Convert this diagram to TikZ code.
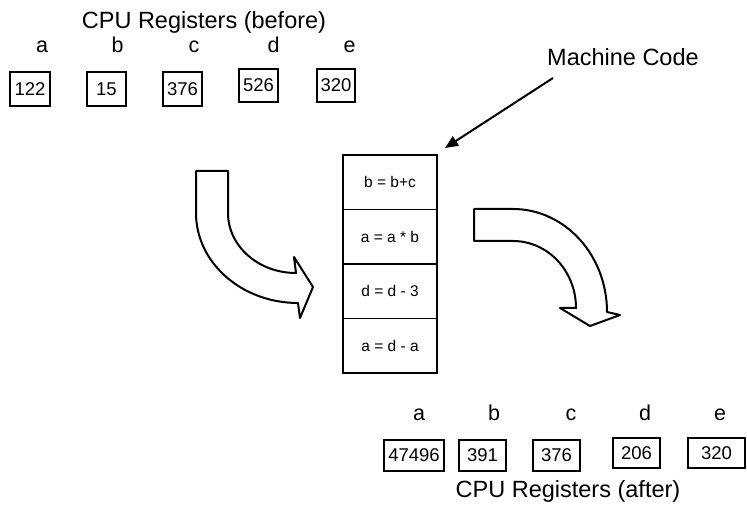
\documentclass[tikz,border=0pt]{standalone}
\usepackage{fontspec}
\setmainfont{Liberation Sans}
\usetikzlibrary{arrows.meta}
\tikzset{
  reg/.style={draw=black, line width=1.8pt, inner sep=0pt, fill=white,
    font=\fontsize{18.5}{22}\selectfont},
  regname/.style={anchor=base, inner sep=0pt, font=\fontsize{21.5}{25}\selectfont},
  title/.style={anchor=base, inner sep=0pt, font=\fontsize{23.5}{28}\selectfont},
  cell/.style={draw=black, line width=1.8pt, inner sep=0pt, minimum width=94pt,
    minimum height=54.5pt, font=\fontsize{15.5}{18}\selectfont},
  bigarrow/.style={draw=black, line width=2pt, fill=white, line join=round},
  pointer/.style={draw=black, line width=2pt, -{Triangle[length=13pt,width=11pt]}}
}
\begin{document}
\begin{tikzpicture}[x=1pt,y=-1pt]
\useasboundingbox (0,0) rectangle (747,521);

% top registers
\node[title] (ttitle) at (204,29) {CPU Registers (before)};
\node[regname] (tla) at (42,53) {a};
\node[regname] (tlb) at (117.5,53) {b};
\node[regname] (tlc) at (194,53) {c};
\node[regname] (tld) at (273.5,53) {d};
\node[regname] (tle) at (349.5,53) {e};
\node[reg, minimum width=40pt, minimum height=34pt] (ta) at (30,89) {122};
\node[reg, minimum width=39pt, minimum height=34pt] (tb) at (106.5,89) {15};
\node[reg, minimum width=39pt, minimum height=34pt] (tc) at (182.5,89) {376};
\node[reg, minimum width=39pt, minimum height=33pt] (td) at (258.5,85.5) {526};
\node[reg, minimum width=38pt, minimum height=33pt] (te) at (336,85.5) {320};

% machine code stack
\node[cell] (mc1) at (390,182.25) {b = b+c};
\node[cell] (mc2) at (390,236.75) {a = a * b};
\node[cell] (mc3) at (390,291.25) {d = d - 3};
\node[cell] (mc4) at (390,345.75) {a = d - a};

\node[title, anchor=base west] (mclabel) at (547,66) {Machine Code};
\coordinate (mcstart) at (553,78);
\coordinate (mctip) at (445,148);
\draw[pointer] (mcstart) -- (mctip);

% left curved arrow
\draw[bigarrow] (196,171) -- (228,171) -- (228,213)
  .. controls (228,246.1) and (258.4,273) .. (296,273)
  -- (294,257) -- (313,287) -- (300,318) -- (298,303)
  .. controls (241.7,303) and (196,262.7) .. (196,213) -- cycle;

% right curved arrow
\draw[bigarrow] (474,209) -- (513,209)
  .. controls (564.9,209) and (607,255.1) .. (607,312)
  -- (620,315) -- (590,326) -- (560,308) -- (576,308)
  .. controls (576,271) and (547.8,241) .. (513,241)
  -- (474,241) -- cycle;

% bottom registers
\node[regname] (bla) at (419,420) {a};
\node[regname] (blb) at (494,420) {b};
\node[regname] (blc) at (571,420) {c};
\node[regname] (bld) at (645,420) {d};
\node[regname] (ble) at (720,420) {e};
\node[reg, minimum width=60pt, minimum height=31pt] (ba) at (414,455.5) {47496};
\node[reg, minimum width=47pt, minimum height=31pt] (bb) at (482.5,455.5) {391};
\node[reg, minimum width=47pt, minimum height=31pt] (bc) at (556.5,455.5) {376};
\node[reg, minimum width=47pt, minimum height=30pt] (bd) at (636.5,453) {206};
\node[reg, minimum width=57pt, minimum height=30pt] (be) at (716.5,453) {320};
\node[title] (btitle) at (568,497) {CPU Registers (after)};
\end{tikzpicture}
\end{document}
